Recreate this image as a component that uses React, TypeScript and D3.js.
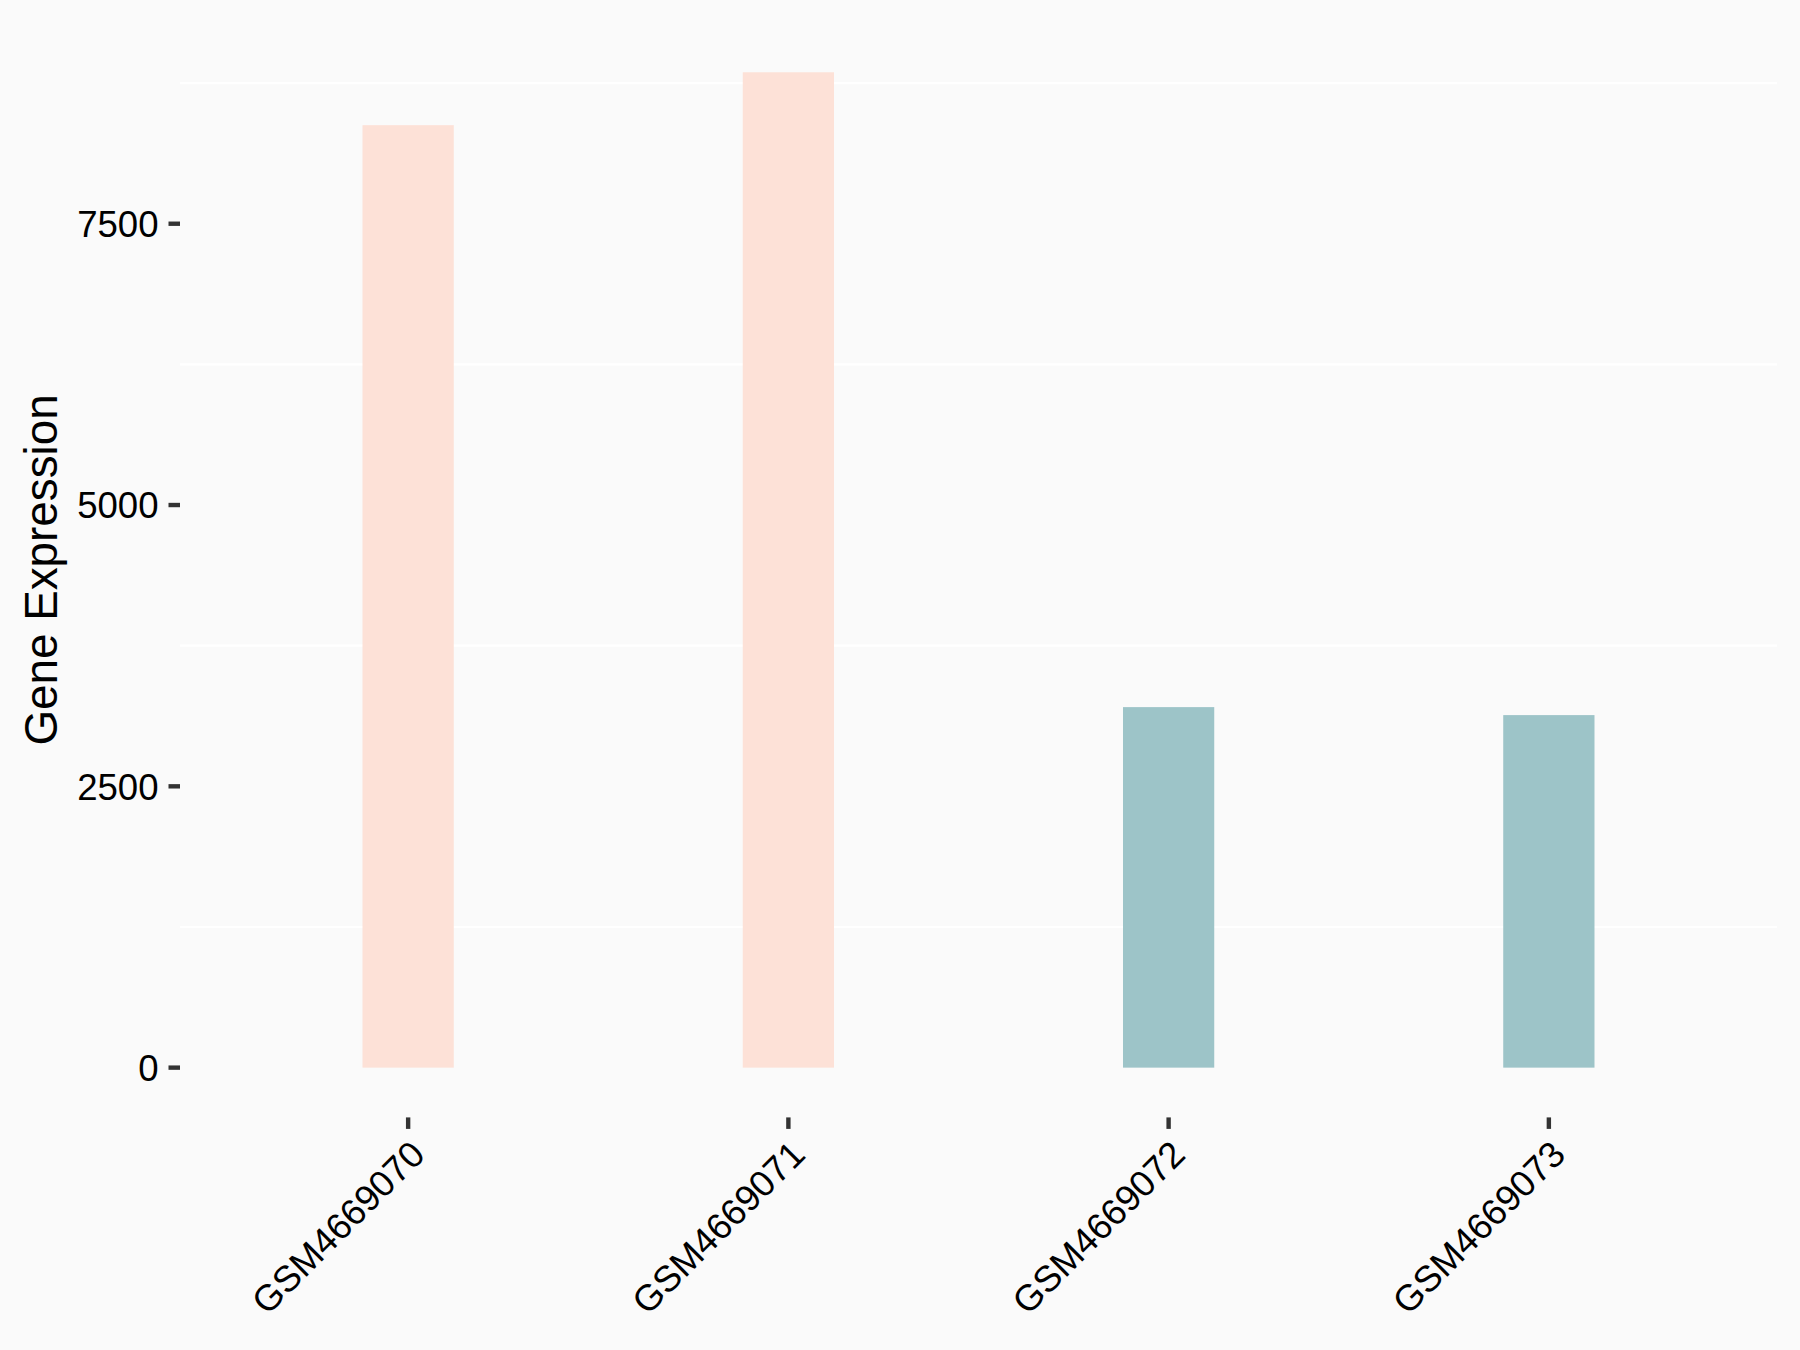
import React from "react";
import * as d3 from "d3";

const samples = ["GSM4669070", "GSM4669071", "GSM4669072", "GSM4669073"];
const values = [8376, 8846, 3204, 3133];
const groups = ["A", "A", "B", "B"];
const groupColors: Record<string, string> = { A: "#FDE1D7", B: "#9DC4C8" };
const yTicks = [0, 2500, 5000, 7500];
const yMinor = [1250, 3750, 6250, 8750];

const W = 1800;
const H = 1350;
const panel = { left: 180, right: 1777, top: 22.5, bottom: 1117.4 };

export default function App() {
  const maxV = d3.max(values) as number;
  const y = d3
    .scaleLinear()
    .domain([-0.05 * maxV, maxV * 1.05])
    .range([panel.bottom, panel.top]);
  const unit = (panel.right - panel.left) / (samples.length - 1 + 1.2);
  const x = d3
    .scalePoint<string>()
    .domain(samples)
    .range([panel.left + 0.6 * unit, panel.right - 0.6 * unit]);
  const barW = 0.24 * unit;
  const tickLen = 11.5;
  const font = "'Liberation Sans', Arial, sans-serif";

  return (
    <svg
      width={W}
      height={H}
      style={{ position: "absolute", left: 0, top: 0, display: "block" }}
      fontFamily={font}
    >
      <rect x={0} y={0} width={W} height={H} fill="#FAFAFA" />
      {yMinor.map((v) => (
        <line
          key={"g" + v}
          x1={panel.left}
          x2={panel.right}
          y1={y(v)}
          y2={y(v)}
          stroke="#FFFFFF"
          strokeWidth={2.2}
        />
      ))}
      {samples.map((s, i) => (
        <rect
          key={s}
          x={(x(s) as number) - barW / 2}
          y={y(values[i])}
          width={barW}
          height={y(0) - y(values[i])}
          fill={groupColors[groups[i]]}
        />
      ))}
      {yTicks.map((v) => (
        <g key={"t" + v}>
          <line
            x1={panel.left - tickLen}
            x2={panel.left}
            y1={y(v)}
            y2={y(v)}
            stroke="#333333"
            strokeWidth={4.4}
          />
          <text
            x={panel.left - tickLen - 10}
            y={y(v)}
            dy="0.36em"
            textAnchor="end"
            fontSize={36.6}
            fill="#000000"
          >
            {v}
          </text>
        </g>
      ))}
      {samples.map((s) => {
        const cx = x(s) as number;
        return (
          <g key={"x" + s}>
            <line
              x1={cx}
              x2={cx}
              y1={panel.bottom}
              y2={panel.bottom + tickLen}
              stroke="#333333"
              strokeWidth={4.4}
            />
            <text
              transform={`translate(${cx},${panel.bottom + tickLen + 9}) rotate(-45)`}
              dy="0.72em"
              textAnchor="end"
              fontSize={36.6}
              fill="#000000"
            >
              {s}
            </text>
          </g>
        );
      })}
      <text
        transform={`translate(57,${(panel.top + panel.bottom) / 2}) rotate(-90)`}
        textAnchor="middle"
        fontSize={45.8}
        fill="#000000"
      >
        Gene Expression
      </text>
    </svg>
  );
}
